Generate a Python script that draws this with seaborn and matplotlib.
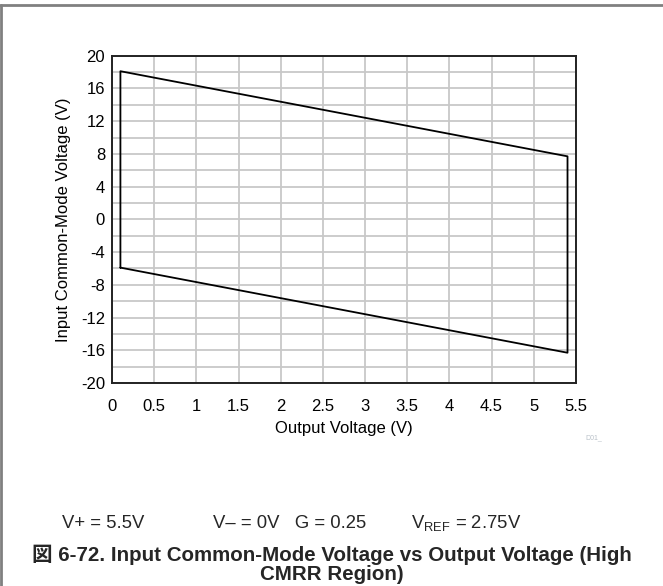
import matplotlib
matplotlib.use("Agg")
import matplotlib.pyplot as plt
from matplotlib.lines import Line2D
import seaborn as sns
import pandas as pd

# Data
vout = [0.1, 0.1, 5.4, 5.4, 0.1]
vcm = [-5.9, 18.1, 7.7, -16.3, -5.9]
x_ticks = [0, 0.5, 1, 1.5, 2, 2.5, 3, 3.5, 4, 4.5, 5, 5.5]
x_tick_labels = ["0", "0.5", "1", "1.5", "2", "2.5", "3", "3.5", "4", "4.5", "5", "5.5"]
y_ticks = [-20, -16, -12, -8, -4, 0, 4, 8, 12, 16, 20]
y_minor = [-18, -14, -10, -6, -2, 2, 6, 10, 14, 18]

sns.set_theme(style="white")
plt.rcParams['font.family'] = ['Liberation Sans', 'Noto Sans CJK JP', 'DejaVu Sans']
plt.rcParams['mathtext.default'] = 'regular'

fig = plt.figure(figsize=(6.63, 5.86), dpi=100)
ax = fig.add_axes([0.1689, 0.3464, 0.6998, 0.5586])

df = pd.DataFrame({"vout": vout, "vcm": vcm})
sns.lineplot(data=df, x="vout", y="vcm", sort=False, estimator=None,
             color="black", linewidth=1.3, ax=ax)

ax.set_xlim(0, 5.5)
ax.set_ylim(-20, 20)
ax.set_xticks(x_ticks)
ax.set_xticklabels(x_tick_labels)
ax.set_yticks(y_ticks)
ax.set_yticklabels([str(v) for v in y_ticks])
ax.set_yticks(y_minor, minor=True)
ax.grid(True, which="both", color="#c8c8c8", linewidth=1.3)
ax.set_axisbelow(True)
ax.tick_params(axis="both", which="both", length=0, labelsize=12, colors="black")
ax.tick_params(axis="x", pad=11.5)
ax.tick_params(axis="y", pad=5)
for s in ax.spines.values():
    s.set_visible(True)
    s.set_color("#222222")
    s.set_linewidth(1.4)

ax.set_xlabel("Output Voltage (V)", fontsize=12, color="black", labelpad=5)
ax.set_ylabel("Input Common-Mode Voltage (V)", fontsize=12, color="black", labelpad=7)

# small id text
fig.text(585 / 663, 1 - 438 / 586, "D01_", fontsize=5, color="#b8c0c8",
         ha="left", va="center")

# conditions line
cond_y = 1 - 523 / 586
fig.text(62 / 663, cond_y, "V+ = 5.5V", fontsize=13.3, ha="left", va="center")
fig.text(213 / 663, cond_y, "V\u2013 = 0V   G = 0.25", fontsize=13.3, ha="left", va="center")
fig.text(411 / 663, cond_y, r"V$_{REF}$ = 2.75V", fontsize=13.3, ha="left", va="center")

# caption
fig.text(0.5, 1 - 555 / 586,
         "図 6-72. Input Common-Mode Voltage vs Output Voltage (High",
         fontsize=14.8, fontweight="bold", ha="center", va="center")
fig.text(0.5, 1 - 575 / 586, "CMRR Region)",
         fontsize=14.8, fontweight="bold", ha="center", va="center")

# outer frame (top and left edges)
fig.add_artist(Line2D([0, 1], [1 - 5 / 586, 1 - 5 / 586], transform=fig.transFigure,
                      color="#808080", linewidth=2))
fig.add_artist(Line2D([0.001, 0.001], [0, 1 - 5 / 586], transform=fig.transFigure,
                      color="#808080", linewidth=2))

fig.savefig("out.png", dpi=100)
